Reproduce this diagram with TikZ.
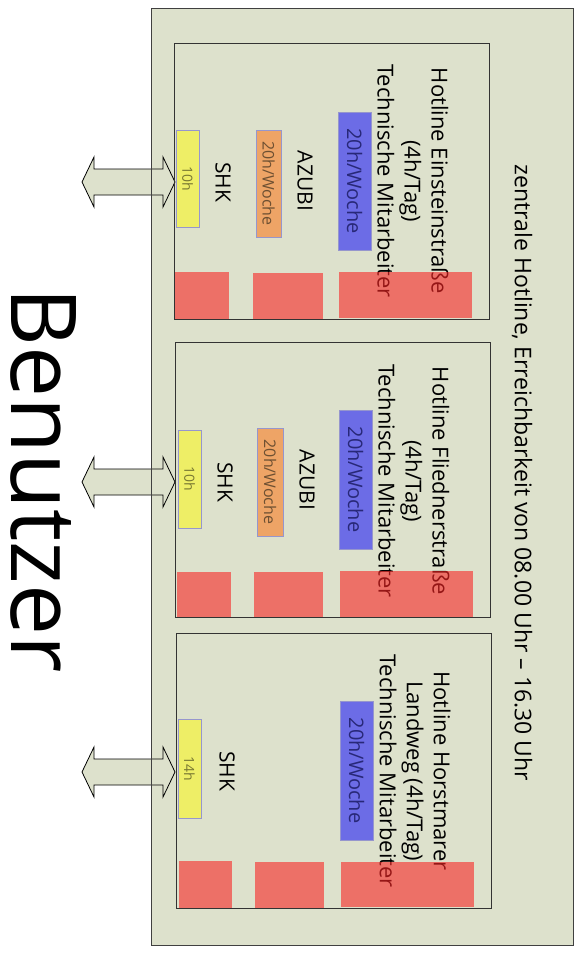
\documentclass[tikz,border=0pt]{standalone}
\usepackage{fontspec}
\setmainfont{Open Sans}
\definecolor{bgc}{RGB}{221,225,204}
\definecolor{redc}{RGB}{249,38,37}
\definecolor{bluec}{RGB}{108,108,230}
\definecolor{orangec}{RGB}{238,164,102}
\definecolor{yellowc}{RGB}{238,238,102}
\definecolor{edgec}{RGB}{150,150,205}
\definecolor{bluetxt}{RGB}{40,40,120}
\definecolor{orangetxt}{RGB}{110,80,50}
\definecolor{yellowtxt}{RGB}{120,120,50}
\tikzset{
  outerbox/.style={draw=black!75, line width=1pt},
  hotlinebox/.style={draw=black!80, line width=1pt, inner sep=0pt},
  redbox/.style={fill=redc, fill opacity=0.6, draw=none, inner sep=0pt},
  tagbox/.style={draw=edgec, line width=0.7pt, inner sep=0pt},
  vtext/.style={rotate=-90, inner sep=0pt, align=center},
  arrowshape/.style={fill=bgc, draw=black, line width=0.8pt, line join=miter},
}
\newcommand\rbox[6]{\node[#6, minimum width={(#4)-(#2)}, minimum height={(#5)-(#3)}] (#1) at ({((#2)+(#4))/2},{((#3)+(#5))/2}) {};}
\newcommand\dblarrow[2]{%
  \coordinate (#1L) at (82,#2);
  \coordinate (#1R) at (175,#2);
  \draw[arrowshape] (#1L) -- (94,{#2-25}) -- (94,{#2-13}) -- (163,{#2-13}) -- (163,{#2-25})
    -- (#1R) -- (163,{#2+25}) -- (163,{#2+13}) -- (94,{#2+13}) -- (94,{#2+25}) -- cycle;}
\begin{document}
\begin{tikzpicture}[x=1pt,y=-1pt]
\useasboundingbox[fill=white] (0,0) rectangle (580,956);
% outer box
\fill[bgc] (151,8) rectangle (573,945);
\dblarrow{a1}{182}
\dblarrow{a2}{482}
\dblarrow{a3}{772}
\rbox{zentral}{151}{8}{573}{945}{outerbox}
\node[vtext, font=\fontsize{23}{27}\selectfont] (zt) at (522,473) {zentrale Hotline, Erreichbarkeit von 08.00 Uhr – 16.30 Uhr};
\node[rotate=-90, inner sep=0pt, font=\fontsize{91}{100}\selectfont] (benutzer) at (44,480) {Benutzer};
% hotline boxes
\rbox{h1}{174}{43}{489}{319}{hotlinebox}
\rbox{h2}{175}{342}{490}{617}{hotlinebox}
\rbox{h3}{176}{633}{491}{908}{hotlinebox}
% tag boxes
\rbox{y1}{176}{130}{199}{227}{tagbox, fill=yellowc}
\rbox{o1}{256}{130}{281}{237}{tagbox, fill=orangec}
\rbox{b1}{338}{112}{371}{250}{tagbox, fill=bluec}
\rbox{y2}{178}{430}{201}{528}{tagbox, fill=yellowc}
\rbox{o2}{257}{428}{283}{536}{tagbox, fill=orangec}
\rbox{b2}{339}{410}{372}{549}{tagbox, fill=bluec}
\rbox{y3}{178}{719}{201}{818}{tagbox, fill=yellowc}
\rbox{b3}{340}{701}{373}{840}{tagbox, fill=bluec}
\node[vtext, font=\fontsize{14}{16}\selectfont, text=yellowtxt] (y1t) at (y1) {10h};
\node[vtext, font=\fontsize{16}{18}\selectfont, text=orangetxt] (o1t) at (o1) {20h/Woche};
\node[vtext, font=\fontsize{20}{22}\selectfont, text=bluetxt] (b1t) at (b1) {20h/Woche};
\node[vtext, font=\fontsize{14}{16}\selectfont, text=yellowtxt] (y2t) at (y2) {10h};
\node[vtext, font=\fontsize{16}{18}\selectfont, text=orangetxt] (o2t) at (o2) {20h/Woche};
\node[vtext, font=\fontsize{20}{22}\selectfont, text=bluetxt] (b2t) at (b2) {20h/Woche};
\node[vtext, font=\fontsize{14}{16}\selectfont, text=yellowtxt] (y3t) at (y3) {14h};
\node[vtext, font=\fontsize{20}{22}\selectfont, text=bluetxt] (b3t) at (b3) {20h/Woche};
% role labels
\node[vtext, font=\fontsize{21}{24}\selectfont] (shk1) at (223,182) {SHK};
\node[vtext, font=\fontsize{21}{24}\selectfont] (az1) at (305,181) {AZUBI};
\node[vtext, font=\fontsize{21}{24}\selectfont] (shk2) at (225,482) {SHK};
\node[vtext, font=\fontsize{21}{24}\selectfont] (az2) at (307,480) {AZUBI};
\node[vtext, font=\fontsize{21}{24}\selectfont] (shk3) at (227,771) {SHK};
% titles
\node[vtext, font=\fontsize{22}{27}\selectfont] (t1) at (413,181) {Hotline Einsteinstraße\\(4h/Tag)\\Technische Mitarbeiter};
\node[vtext, font=\fontsize{22}{27}\selectfont] (t2) at (414,481) {Hotline Fliednerstraße\\(4h/Tag)\\Technische Mitarbeiter};
\node[vtext, font=\fontsize{22}{27}\selectfont] (t3) at (415,771) {Hotline Horstmarer\\Landweg (4h/Tag)\\Technische Mitarbeiter};
% red blocks
\rbox{r11}{175}{272}{229}{319}{redbox}
\rbox{r12}{253}{273}{323}{319}{redbox}
\rbox{r13}{339}{272}{472}{318}{redbox}
\rbox{r21}{177}{572}{231}{617}{redbox}
\rbox{r22}{254}{572}{323}{617}{redbox}
\rbox{r23}{340}{571}{473}{617}{redbox}
\rbox{r31}{179}{861}{232}{908}{redbox}
\rbox{r32}{255}{862}{324}{908}{redbox}
\rbox{r33}{341}{862}{474}{907}{redbox}
\end{tikzpicture}
\end{document}
